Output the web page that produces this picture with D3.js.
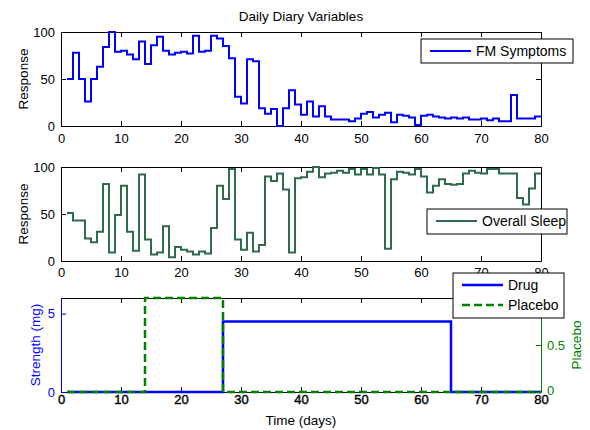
<!DOCTYPE html>
<html>
<head>
<meta charset="utf-8">
<script src="https://cdn.jsdelivr.net/npm/d3@7"></script>
<style>
  body { margin: 0; background: #fff; }
  svg { display: block; font-family: "Liberation Sans", Arial, Helvetica, sans-serif; }
  .tick text { font-size: 13px; }
</style>
</head>
<body>
<div id="chart"></div>
<script>
var width = 590, height = 430;

// day index for the stairs (one value per diary day)
var days = d3.range(1, 81);
var xTicks = [0, 10, 20, 30, 40, 50, 60, 70, 80];
var responseTicks = [0, 50, 100];

var fmSymptoms = [50, 78, 50, 26, 50, 63, 84, 100, 79, 80,
                  76, 71, 90, 66, 86, 95, 80, 76, 78, 79,
                  77, 96, 79, 80, 96, 93, 85, 72, 31, 24,
                  71, 69, 19, 13, 18, 0, 19, 38, 23, 12,
                  26, 10, 21, 10, 7, 7, 7, 5, 8, 13,
                  15, 9, 12, 14, 4, 12, 11, 9, 1, 11,
                  12, 10, 9, 8, 9, 8, 9, 7, 7, 8,
                  6, 8, 5, 5, 33, 8, 8, 8, 10, 9];

var overallSleep = [51, 43, 43, 24, 20, 31, 82, 9, 49, 80,
                    31, 11, 92, 23, 7, 9, 37, 4, 15, 12,
                    10, 7, 10, 8, 35, 80, 66, 98, 23, 12,
                    30, 10, 17, 90, 85, 93, 76, 9, 88, 89,
                    95, 100, 89, 93, 94, 96, 94, 98, 92, 98,
                    92, 99, 92, 13, 87, 95, 94, 92, 98, 90,
                    73, 80, 87, 82, 81, 82, 93, 96, 94, 93,
                    98, 98, 93, 93, 93, 67, 60, 77, 93, 93];

// [day, value] change points of the two treatment stairs
var drugSteps = [[1, 0], [27, 4.5], [65, 0], [80, 0]];
var placeboSteps = [[1, 0], [14, 1], [27, 0], [80, 0]];
var strengthTicks = [0, 5];
var placeboTicks = [0, 0.5, 1];

var blue = "#0000ff";
var sleepColor = "#2f6a4b";
var green = "#008000";

var svg = d3.select("#chart").append("svg")
    .attr("width", width)
    .attr("height", height);

var x = d3.scaleLinear().domain([0, 80]).range([61, 541]);

var panels = [
  {top: 32, bottom: 126, pad: 8},
  {top: 167, bottom: 261, pad: 7},
  {top: 298, bottom: 392, pad: 3}
];

function frame(p, yScale, leftTicks, leftColor) {
  var g = svg.append("g");
  // bottom axis with labels
  g.append("g")
      .attr("class", "xaxis")
      .attr("transform", "translate(0," + p.bottom + ")")
      .call(d3.axisBottom(x).tickValues(xTicks).tickSizeInner(-5).tickSizeOuter(0).tickPadding(p.pad));
  // top mirror
  g.append("g")
      .attr("transform", "translate(0," + p.top + ")")
      .call(d3.axisTop(x).tickValues(xTicks).tickSizeInner(-5).tickSizeOuter(0).tickFormat(""));
  // left axis
  var la = g.append("g")
      .attr("transform", "translate(" + x(0) + ",0)")
      .call(d3.axisLeft(yScale).tickValues(leftTicks).tickSizeInner(-5).tickSizeOuter(0).tickPadding(6)
        .tickFormat(d3.format("d")));
  la.selectAll("path, line").attr("stroke", leftColor);
  la.selectAll("text").attr("fill", leftColor);
  g.selectAll(".tick text").style("font-size", "13px");
  return g;
}

function stairs(yScale, data, color, w, dash) {
  var line = d3.line()
      .x(function(d) { return x(d[0]); })
      .y(function(d) { return yScale(d[1]); })
      .curve(d3.curveStepAfter);
  var path = svg.append("path")
      .datum(data)
      .attr("fill", "none")
      .attr("stroke", color)
      .attr("stroke-width", w)
      .attr("d", line);
  if (dash) path.attr("stroke-dasharray", dash);
  return path;
}

function mirrorRight(yScale, ticks, color) {
  var ra = svg.append("g")
      .attr("transform", "translate(" + x(80) + ",0)")
      .call(d3.axisRight(yScale).tickValues(ticks).tickSizeInner(-5).tickSizeOuter(0).tickFormat(""));
  ra.selectAll("path, line").attr("stroke", color);
  return ra;
}

function legend(x0, y0, w, h, items) {
  var lg = svg.append("g");
  lg.append("rect")
      .attr("x", x0).attr("y", y0)
      .attr("width", w).attr("height", h)
      .attr("fill", "#fff")
      .attr("stroke", "#000")
      .attr("stroke-width", 1);
  items.forEach(function(it, i) {
    var cy = y0 + 12 + i * 20;
    lg.append("line")
        .attr("x1", x0 + 9).attr("x2", x0 + 50)
        .attr("y1", cy).attr("y2", cy)
        .attr("stroke", it.color)
        .attr("stroke-width", it.width)
        .attr("stroke-dasharray", it.dash || null);
    lg.append("text")
        .attr("x", x0 + 55).attr("y", cy + 5)
        .style("font-size", "14px")
        .text(it.label);
  });
}

function ylabel(cx, cy, txt, color) {
  svg.append("text")
      .attr("transform", "translate(" + cx + "," + cy + ") rotate(-90)")
      .attr("text-anchor", "middle")
      .attr("fill", color || "#000")
      .style("font-size", "13.5px")
      .text(txt);
}

// ---- panel 1 : FM symptoms
var y1 = d3.scaleLinear().domain([0, 100]).range([panels[0].bottom, panels[0].top]);
frame(panels[0], y1, responseTicks, "#000");
mirrorRight(y1, responseTicks, "#000");
stairs(y1, days.map(function(d, i) { return [d, fmSymptoms[i]]; }), blue, 2);
legend(421, 39, 152, 24, [{label: "FM Symptoms", color: blue, width: 2}]);

svg.append("text")
    .attr("x", 301).attr("y", 21)
    .attr("text-anchor", "middle")
    .style("font-size", "13.5px")
    .text("Daily Diary Variables");
ylabel(28, (panels[0].top + panels[0].bottom) / 2, "Response");

// ---- panel 2 : overall sleep
var y2 = d3.scaleLinear().domain([0, 100]).range([panels[1].bottom, panels[1].top]);
frame(panels[1], y2, responseTicks, "#000");
mirrorRight(y2, responseTicks, "#000");
stairs(y2, days.map(function(d, i) { return [d, overallSleep[i]]; }), sleepColor, 2);
legend(427, 209, 140, 25, [{label: "Overall Sleep", color: sleepColor, width: 2}]);
ylabel(28, (panels[1].top + panels[1].bottom) / 2, "Response");

// ---- panel 3 : treatment (two y axes)
var y3 = d3.scaleLinear().domain([0, 6]).range([panels[2].bottom, panels[2].top]);
var y3r = d3.scaleLinear().domain([0, 1]).range([panels[2].bottom, panels[2].top]);
var f3 = frame(panels[2], y3, strengthTicks, blue);
// plotyy draws the x labels twice, so they look heavier
f3.select(".xaxis").selectAll("text")
    .attr("stroke", "#000")
    .attr("stroke-width", 0.4);

stairs(y3, drugSteps, blue, 2.5);
stairs(y3r, placeboSteps, green, 2.5, "8,4");

// right axis; its "1" label sits under the legend in the original, so it is left out
var ra = svg.append("g")
    .attr("transform", "translate(" + x(80) + ",0)")
    .call(d3.axisRight(y3r).tickValues(placeboTicks).tickSizeInner(-5).tickSizeOuter(0).tickPadding(6)
      .tickFormat(function(d) { return d === 1 ? "" : d === 0.5 ? "0.5" : "0"; }));
ra.selectAll("path, line").attr("stroke", green);
ra.selectAll("text").attr("fill", green).style("font-size", "13px");
ra.selectAll(".tick text").filter(function(d) { return d === 0; }).attr("dy", "0.2em");

ylabel(40, (panels[2].top + panels[2].bottom) / 2, "Strength (mg)", blue);
ylabel(581, (panels[2].top + panels[2].bottom) / 2, "Placebo", green);
svg.append("text")
    .attr("x", 301).attr("y", 425)
    .attr("text-anchor", "middle")
    .style("font-size", "13.5px")
    .text("Time (days)");

legend(453, 273, 111, 45, [
  {label: "Drug", color: blue, width: 2.5},
  {label: "Placebo", color: green, width: 2.5, dash: "8,4"}
]);
</script>
</body>
</html>
